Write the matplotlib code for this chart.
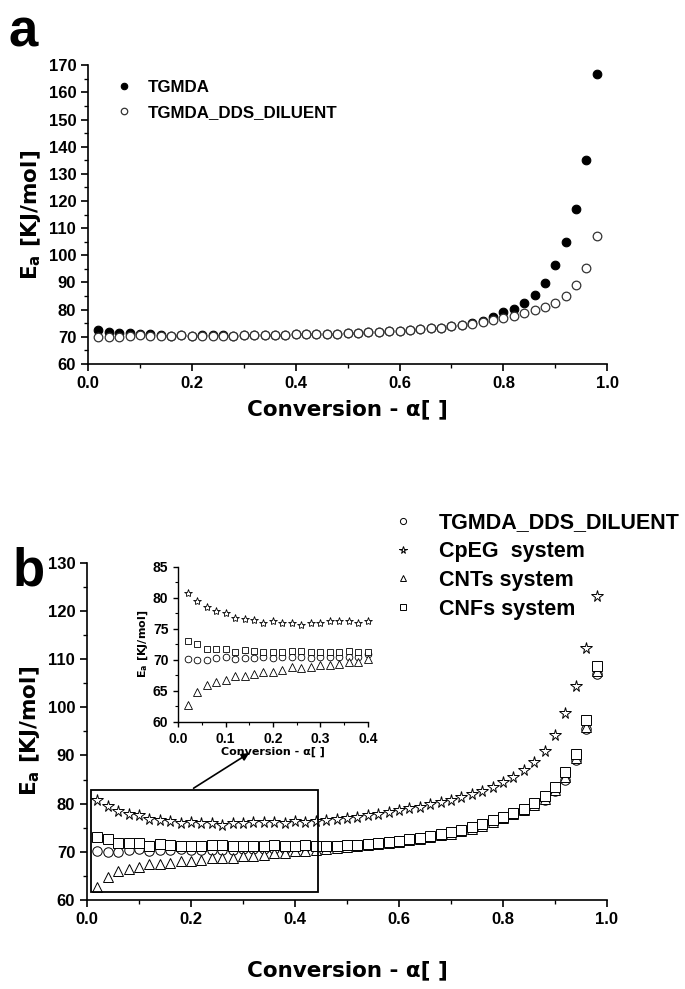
import numpy as np
import matplotlib
matplotlib.use("Agg")
import matplotlib.pyplot as plt
from matplotlib import font_manager as fm
from matplotlib.patches import Rectangle
from matplotlib.ticker import MultipleLocator

# ---- data -------------------------------------------------------------
conversion = [0.02, 0.04, 0.06, 0.08, 0.10, 0.12, 0.14, 0.16, 0.18, 0.20,
              0.22, 0.24, 0.26, 0.28, 0.30, 0.32, 0.34, 0.36, 0.38, 0.40,
              0.42, 0.44, 0.46, 0.48, 0.50, 0.52, 0.54, 0.56, 0.58, 0.60,
              0.62, 0.64, 0.66, 0.68, 0.70, 0.72, 0.74, 0.76, 0.78, 0.80,
              0.82, 0.84, 0.86, 0.88, 0.90, 0.92, 0.94, 0.96, 0.98]

tgmda = [72.5, 71.8, 71.5, 71.3, 71.2, 71.0, 70.8, 70.4, 70.6, 70.4,
         70.5, 70.5, 70.5, 70.4, 70.6, 70.6, 70.6, 70.6, 70.6, 70.9,
         70.9, 71.0, 71.1, 71.2, 71.3, 71.5, 71.7, 71.8, 72.0, 72.2,
         72.5, 72.8, 73.1, 73.4, 73.8, 74.4, 75.1, 76.0, 77.3, 79.0,
         80.3, 82.4, 85.4, 89.8, 96.3, 105.0, 117.2, 135.0, 166.8]

tgmda_dds_diluent = [70.1, 69.9, 69.9, 70.3, 70.5, 70.2, 70.3, 70.3, 70.5, 70.3,
                     70.4, 70.4, 70.4, 70.3, 70.5, 70.5, 70.5, 70.5, 70.5, 70.9,
                     70.9, 71.0, 71.1, 71.2, 71.3, 71.5, 71.7, 71.8, 72.0, 72.2,
                     72.5, 72.8, 73.1, 73.4, 73.8, 74.3, 74.8, 75.4, 76.2, 77.0,
                     77.8, 78.6, 79.7, 80.8, 82.6, 85.0, 89.0, 95.5, 107.0]

cpeg = [80.8, 79.5, 78.5, 77.8, 77.6, 76.8, 76.6, 76.4, 75.9, 76.2,
        76.0, 75.9, 75.6, 75.9, 76.0, 76.2, 76.2, 76.2, 76.0, 76.3,
        76.1, 76.3, 76.5, 76.8, 77.0, 77.3, 77.6, 77.9, 78.2, 78.6,
        79.0, 79.4, 79.9, 80.3, 80.8, 81.3, 81.9, 82.6, 83.4, 84.4,
        85.6, 87.0, 88.6, 91.0, 94.3, 98.8, 104.4, 112.4, 123.0]

cnts = [62.8, 64.8, 66.0, 66.4, 66.8, 67.4, 67.4, 67.7, 68.0, 68.0,
        68.3, 68.8, 68.7, 68.8, 69.2, 69.2, 69.4, 69.7, 69.7, 70.1,
        70.2, 70.4, 70.6, 70.8, 71.0, 71.2, 71.4, 71.6, 71.8, 72.1,
        72.4, 72.7, 73.0, 73.4, 73.8, 74.3, 74.8, 75.4, 76.2, 77.0,
        77.8, 78.7, 79.8, 81.0, 82.8, 85.5, 89.5, 96.0, 107.5]

cnfs = [73.0, 72.6, 71.8, 71.8, 71.8, 71.3, 71.6, 71.5, 71.3, 71.3,
        71.3, 71.5, 71.5, 71.3, 71.2, 71.3, 71.3, 71.5, 71.3, 71.3,
        71.4, 71.3, 71.2, 71.3, 71.4, 71.5, 71.7, 71.9, 72.1, 72.3,
        72.6, 72.9, 73.3, 73.7, 74.1, 74.6, 75.1, 75.7, 76.5, 77.3,
        78.1, 78.9, 80.2, 81.5, 83.5, 86.5, 90.3, 97.3, 108.5]

inset_limit = 0.40  # conversion range shown in the zoomed inset

# ---- fonts ------------------------------------------------------------
names = {f.name for f in fm.fontManager.ttflist}
BASE = "Liberation Sans" if "Liberation Sans" in names else "DejaVu Sans"
LABEL = "DejaVu Sans"

plt.rcParams["font.family"] = [BASE, "DejaVu Sans"]
plt.rcParams["font.weight"] = "bold"
plt.rcParams["mathtext.fontset"] = "custom"
plt.rcParams["mathtext.bf"] = f"{LABEL}:bold"
plt.rcParams["mathtext.rm"] = f"{LABEL}:bold"
plt.rcParams["mathtext.it"] = f"{LABEL}:bold"

x = np.array(conversion)
ylab = r"E$_{\mathbf{a}}$ [KJ/mol]"
xlab = "Conversion - α[ ]"


def style_axes(ax, tick_size, lw=1.2, major=5, minor=3):
    for s in ("top", "right"):
        ax.spines[s].set_visible(False)
    for s in ("left", "bottom"):
        ax.spines[s].set_linewidth(lw)
    ax.tick_params(which="major", direction="out", length=major, width=lw,
                   labelsize=tick_size)
    ax.tick_params(which="minor", direction="out", length=minor, width=lw * 0.8)
    for lab in ax.get_xticklabels() + ax.get_yticklabels():
        lab.set_fontweight("bold")


def set_ticks(ax, xmax, xmaj, xmin, ymaj, ymin):
    ax.xaxis.set_major_locator(MultipleLocator(xmaj))
    ax.xaxis.set_minor_locator(MultipleLocator(xmin))
    ax.yaxis.set_major_locator(MultipleLocator(ymaj))
    ax.yaxis.set_minor_locator(MultipleLocator(ymin))
    ax.set_xticks(ax.get_xticks())
    ax.set_xticklabels([f"{v:.1f}" for v in ax.get_xticks()])
    ax.set_xlim(0.0, xmax)


label_font = {"family": LABEL, "weight": "bold"}

fig = plt.figure(figsize=(6.85, 9.89), dpi=100)

# ---- panel a ----------------------------------------------------------
ax_a = fig.add_axes([0.1285, 0.632, 0.758, 0.302])
ax_a.plot(x, tgmda, "o", ms=6.2, mfc="black", mec="black", mew=0.8,
          label="TGMDA", zorder=3)
ax_a.plot(x, tgmda_dds_diluent, "o", ms=6.2, mfc="white", mec="#333333",
          mew=0.9, label="TGMDA_DDS_DILUENT", zorder=4)
ax_a.set_ylim(60, 170)
set_ticks(ax_a, 1.0, 0.2, 0.1, 10, 5)
style_axes(ax_a, 12)
ax_a.set_xlabel(xlab, fontsize=15.5, labelpad=6, **label_font)
ax_a.set_ylabel(ylab, fontsize=15.5, labelpad=4, **label_font)
ax_a.legend(loc="upper left", bbox_to_anchor=(0.169, 0.919),
            bbox_transform=fig.transFigure, frameon=False, markerscale=0.75,
            handlelength=1.0, handletextpad=0.9, labelspacing=0.6,
            borderpad=0, borderaxespad=0,
            prop={"family": [BASE, "DejaVu Sans"], "weight": "bold",
                  "size": 12.2})

# ---- panel b ----------------------------------------------------------
ax_b = fig.add_axes([0.127, 0.090, 0.759, 0.341])
series_b = [
    (tgmda_dds_diluent, "o", 6.8, "TGMDA_DDS_DILUENT"),
    (cpeg, "*", 8.5, "CpEG  system"),
    (cnts, "^", 7.0, "CNTs system"),
    (cnfs, "s", 6.5, "CNFs system"),
]
for vals, mk, ms, lab in series_b:
    ax_b.plot(x, vals, mk, ms=ms, mfc="white", mec="black", mew=0.7,
              label=lab, zorder=3)
ax_b.set_ylim(60, 130)
set_ticks(ax_b, 1.0, 0.2, 0.1, 10, 5)
style_axes(ax_b, 12)
ax_b.set_xlabel(xlab, fontsize=15.5, labelpad=24, **label_font)
ax_b.set_ylabel(ylab, fontsize=15.5, labelpad=4, **label_font)
ax_b.legend(loc="upper left", bbox_to_anchor=(0.572, 0.482),
            bbox_transform=fig.transFigure, frameon=False, markerscale=0.65,
            handlelength=1.0, handletextpad=1.2, labelspacing=0.36,
            borderpad=0, borderaxespad=0,
            prop={"family": [BASE, "DejaVu Sans"], "weight": "bold",
                  "size": 15.5})

# zoom box and arrow towards the inset
ax_b.add_patch(Rectangle((0.008, 61.6), 0.437, 21.3, fill=False, lw=1.3,
                         ec="black", zorder=5))
ax_b.annotate("", xy=(0.312, 90.5), xytext=(0.205, 83.2),
              arrowprops=dict(arrowstyle="-|>", lw=1.2, color="black",
                              mutation_scale=11, shrinkA=0, shrinkB=0))

# ---- inset ------------------------------------------------------------
mask = x <= inset_limit + 1e-9
ax_i = fig.add_axes([0.260, 0.270, 0.277, 0.157])
inset_series = [
    (tgmda_dds_diluent, "o", 4.8),
    (cpeg, "*", 6.0),
    (cnts, "^", 5.2),
    (cnfs, "s", 4.0),
]
for vals, mk, ms in inset_series:
    ax_i.plot(x[mask], np.array(vals)[mask], mk, ms=ms, mfc="white",
              mec="black", mew=0.6, zorder=3, clip_on=False)
ax_i.set_ylim(60, 85)
set_ticks(ax_i, 0.4, 0.1, 0.05, 5, 2.5)
style_axes(ax_i, 10, lw=1.0, major=3.5, minor=2)
ax_i.set_xlabel(xlab, fontsize=8, labelpad=1, **label_font)
ax_i.set_ylabel(ylab, fontsize=8, labelpad=2, **label_font)

# ---- panel letters ----------------------------------------------------
fig.text(0.012, 0.953, "a", fontsize=38, fontweight="bold", va="baseline")
fig.text(0.018, 0.408, "b", fontsize=38, fontweight="bold", va="baseline")

fig.savefig("out.png", dpi=100)
